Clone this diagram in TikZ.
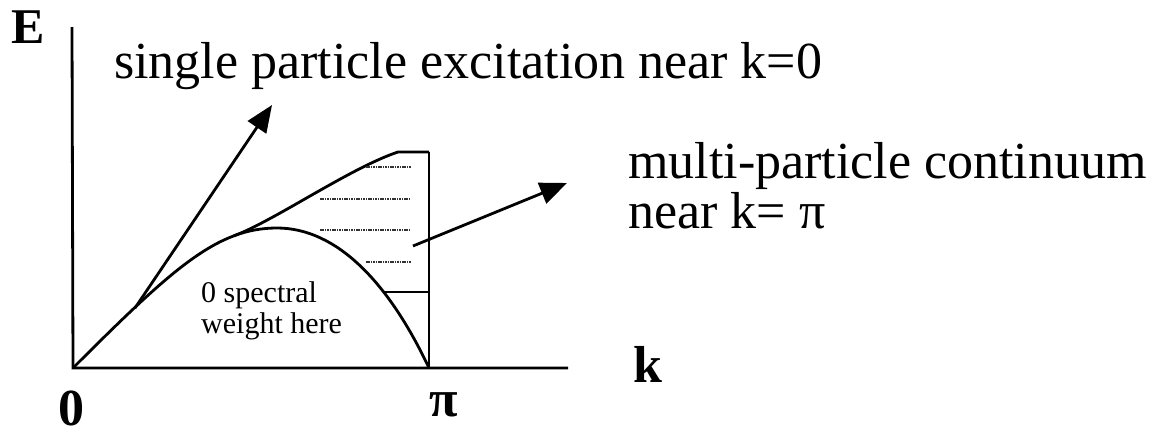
\documentclass[tikz,border=0pt]{standalone}
\usepackage{fontspec}
\setmainfont{Liberation Serif}
\usetikzlibrary{arrows.meta}
\tikzset{
  axis/.style={line width=2.8pt},
  curve/.style={line width=2.8pt},
  bigarrow/.style={line width=2.8pt,-{Triangle[length=27pt,width=22pt]}},
  hatch/.style={line width=1.4pt,dash pattern=on 1.6pt off 0.8pt,black!80},
  lab/.style={inner sep=0pt,anchor=base west,font=\fontsize{52}{56}\selectfont},
  blab/.style={inner sep=0pt,anchor=base west,font=\fontsize{52}{56}\selectfont\bfseries},
  slab/.style={inner sep=0pt,anchor=base west,font=\fontsize{30}{32}\selectfont},
}
\begin{document}
\begin{tikzpicture}[x=1pt,y=-1pt]
\useasboundingbox (0,0) rectangle (1154,437);
% axes
\coordinate (O) at (73,368);
\coordinate (Etop) at (72,27);
\coordinate (kend) at (568,368);
\coordinate (piB) at (429,368);
\coordinate (piT) at (429,152);
\draw[axis] (Etop) -- (O) -- (kend);
\draw[axis] (piB) -- (piT);
% lower curve
\coordinate (peak) at (277,228);
\draw[curve] (O) .. controls (173,268) and (217,228) .. (peak) coordinate[pos=0.75] (branch)
  .. controls (337,228) and (389,283) .. (piB);
% upper curve
\coordinate (topend) at (398,152);
\draw[curve] (branch) .. controls (274,221) and (350,168) .. (topend) -- (piT);
% hatching
\draw[hatch] (366,167) -- (411,167);
\draw[hatch] (320,199) -- (411,199);
\draw[hatch] (320,230) -- (411,230);
\draw[hatch] (366,262) -- (411,262);
\draw[line width=1.4pt] (385,292) -- (429,292);
% arrows
\coordinate (a1s) at (135,308);
\coordinate (a1e) at (272,105);
\coordinate (a2s) at (413,246);
\coordinate (a2e) at (567,183);
\draw[bigarrow] (a1s) -- (a1e);
\draw[bigarrow] (a2s) -- (a2e);
% labels
\node[blab,font=\fontsize{50}{52}\selectfont\bfseries] (E) at (11,43) {E};
\node[lab] (t1) at (114,78) {single particle excitation near k=0};
\node[lab] (t2) at (628,178) {multi-particle continuum};
\node[lab] (t3) at (628,228) {near k= π};
\node[slab] (s1) at (201,302) {0 spectral};
\node[slab] (s2) at (201,333) {weight here};
\node[blab] (k) at (633,382) {k};
\node[blab] (zero) at (58,425) {0};
\node[blab,anchor=base] (pi) at (444,416) {π};
\end{tikzpicture}
\end{document}
